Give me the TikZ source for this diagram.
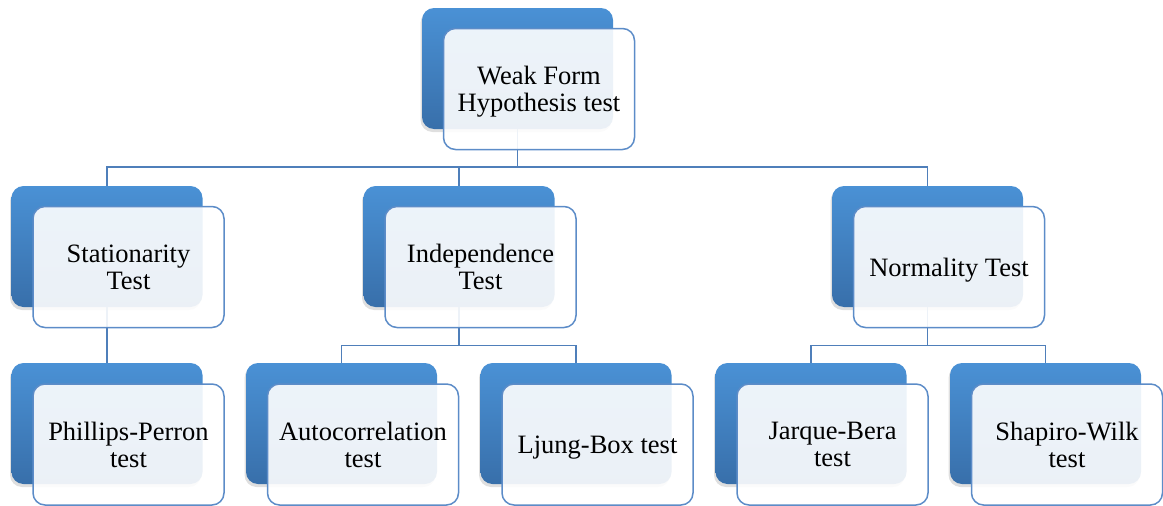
\documentclass[tikz,border=0pt]{standalone}
\usepackage{fontspec}
\setmainfont{Liberation Serif}
\usetikzlibrary{shadows,backgrounds}
\definecolor{boxblue}{RGB}{74,145,213}
\definecolor{boxdark}{RGB}{56,111,170}
\definecolor{edgeblue}{RGB}{92,140,200}
\definecolor{linkblue}{RGB}{79,127,186}
\begin{document}
\begin{tikzpicture}[
    x=1pt, y=-1pt,
    every node/.style={font=\fontsize{26.5}{27}\selectfont},
    backbox/.style={rounded corners=12pt, minimum width=191pt, minimum height=121pt,
        inner sep=0pt, top color=boxblue, bottom color=boxdark,
        drop shadow={opacity=0.25, shadow xshift=-1.5pt, shadow yshift=-3pt}},
    frontbox/.style={rounded corners=12pt, minimum width=191pt, minimum height=121pt,
        inner sep=0pt, text depth=0pt, draw=edgeblue, line width=1.5pt, fill=white,
        fill opacity=0.9, text opacity=1, align=center},
    link/.style={draw=linkblue, line width=1.9pt},
]
\useasboundingbox (0,0) rectangle (1163,506);

% Top level
\node[backbox] (top) at (517.5,68.5) {};
\node[frontbox] (topf) at (539,89) {Weak Form\\Hypothesis test};

% Second level (the three test groups)
\node[backbox] (stat) at (107,246.5) {};
\node[frontbox] (statf) at (128.5,267) {Stationarity\\Test};

\node[backbox] (indep) at (459,246.5) {};
\node[frontbox] (indepf) at (480.5,267) {Independence\\Test};

\node[backbox] (norm) at (927.5,246.5) {};
\node[frontbox] (normf) at (949,267) {Normality Test};

% Third level (single tests)
\node[backbox] (pp) at (107,423.5) {};
\node[frontbox] (ppf) at (128.5,444.5) {Phillips-Perron\\test};

\node[backbox] (acf) at (341.5,423.5) {};
\node[frontbox] (acff) at (363,444.5) {Autocorrelation\\test};

\node[backbox] (ljung) at (576,423.5) {};
\node[frontbox] (ljungf) at (597.5,444.5) {Ljung-Box test};

\node[backbox] (jb) at (811,423.5) {};
\node[frontbox] (jbf) at (832.5,444.5) {Jarque-Bera\\test};

\node[backbox] (sw) at (1045.5,423.5) {};
\node[frontbox] (swf) at (1067,444.5) {Shapiro-Wilk\\test};

% Connectors, kept behind the boxes
\coordinate (busa) at (0,167);
\coordinate (busb) at (0,345.5);
\begin{scope}[on background layer]
\draw[link] (top.south) -- (top.south |- busa);
\draw[link] (stat.north) |- (norm.north |- busa) -- (norm.north);
\draw[link] (indep.north) -- (indep.north |- busa);

\draw[link] (stat.south) -- (pp.north);

\draw[link] (indep.south) -- (indep.south |- busb);
\draw[link] (acf.north) |- (ljung.north |- busb) -- (ljung.north);

\draw[link] (norm.south) -- (norm.south |- busb);
\draw[link] (jb.north) |- (sw.north |- busb) -- (sw.north);
\end{scope}

\end{tikzpicture}
\end{document}
